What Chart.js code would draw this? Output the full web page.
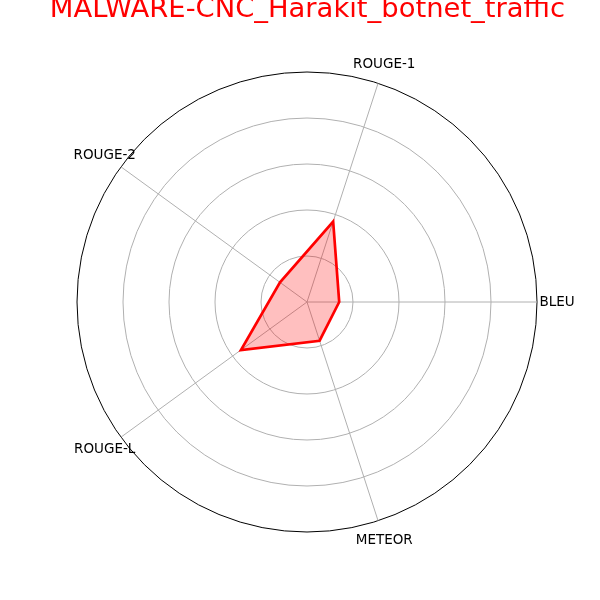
<!DOCTYPE html>
<html>
<head>
<meta charset="utf-8">
<script src="https://cdn.jsdelivr.net/npm/chart.js@4"></script>
<style>
  html, body { margin: 0; padding: 0; background: #ffffff; }
  #wrap { width: 600px; height: 600px; }
</style>
</head>
<body>
<div id="wrap"><canvas id="c" width="600" height="600"></canvas></div>
<script>
// Chart data (ordered clockwise from the right-hand axis)
const chartTitle = "MALWARE-CNC_Harakit_botnet_traffic";
const categories = ["BLEU", "METEOR", "ROUGE-L", "ROUGE-2", "ROUGE-1"];
const scores = [0.14, 0.177, 0.355, 0.145, 0.368];
const gridTicks = [0, 0.2, 0.4, 0.6, 0.8, 1.0];

const labelPlugin = {
  id: 'mplLabels',
  afterDraw(chart) {
    const ctx = chart.ctx;
    const scale = chart.scales.r;
    ctx.save();
    // axis labels
    ctx.font = '13.5px "DejaVu Sans"';
    ctx.fillStyle = '#000000';
    ctx.textAlign = 'center';
    ctx.textBaseline = 'middle';
    categories.forEach((lab, i) => {
      const p = scale.getPointPosition(i, scale.drawingArea + 20);
      ctx.fillText(lab, p.x, p.y + 0.5);
    });
    // title
    ctx.font = '27.4px "DejaVu Sans"';
    ctx.fillStyle = '#ff0000';
    ctx.textBaseline = 'alphabetic';
    ctx.fillText(chartTitle, scale.xCenter + 0.5, 17);
    ctx.restore();
  }
};

new Chart(document.getElementById('c'), {
  type: 'radar',
  data: {
    labels: categories,
    datasets: [{
      data: scores,
      borderColor: '#ff0000',
      backgroundColor: 'rgba(255,0,0,0.25)',
      borderWidth: 2.7,
      fill: true,
      pointRadius: 0,
      pointHoverRadius: 0,
      tension: 0
    }]
  },
  options: {
    responsive: false,
    animation: false,
    events: [],
    layout: { padding: { left: 77, top: 72, right: 62, bottom: 67 } },
    plugins: { legend: { display: false }, tooltip: { enabled: false }, title: { display: false } },
    scales: {
      r: {
        min: gridTicks[0],
        max: gridTicks[gridTicks.length - 1],
        startAngle: 90,
        ticks: { display: false, stepSize: 0.2 },
        pointLabels: { display: false },
        grid: {
          circular: true,
          color: (c) => (c.tick && c.tick.value >= 0.999 ? '#000000' : '#b0b0b0'),
          lineWidth: 1
        },
        angleLines: { color: '#b0b0b0', lineWidth: 1 }
      }
    }
  },
  plugins: [labelPlugin]
});
</script>
</body>
</html>
